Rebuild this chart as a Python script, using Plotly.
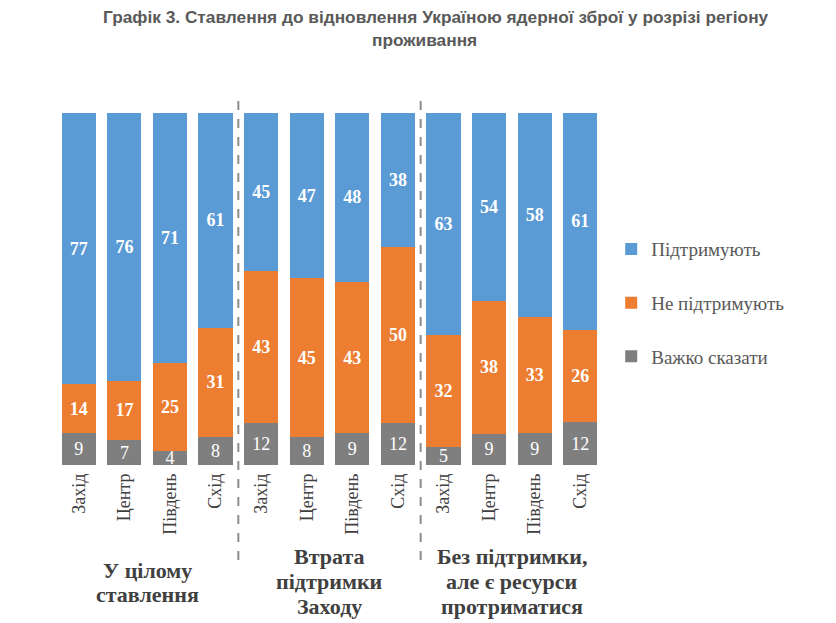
import plotly.graph_objects as go

categories = ["Захід", "Центр", "Південь", "Схід"] * 3
group_lines = [["У цілому", "ставлення"],
               ["Втрата", "підтримки", "Заходу"],
               ["Без підтримки,", "але є ресурси", "протриматися"]]
hard_to_say = [9, 7, 4, 8, 12, 8, 9, 12, 5, 9, 9, 12]
not_support = [14, 17, 25, 31, 43, 45, 43, 50, 32, 38, 33, 26]
support = [77, 76, 71, 61, 45, 47, 48, 38, 63, 54, 58, 61]
series_names = ["Підтримують", "Не підтримують", "Важко сказати"]
title_lines = ["Графік 3. Ставлення до відновлення Україною ядерної зброї у розрізі регіону",
               "проживання"]

x = list(range(len(categories)))
serif = "Liberation Serif, Times New Roman, serif"
sans = "Liberation Sans, Arial, sans-serif"

fig = go.Figure()
specs = [(hard_to_say, series_names[2], "#7F7F7F", "normal", 3),
         (not_support, series_names[1], "#ED7D31", "bold", 2),
         (support, series_names[0], "#5B9BD5", "bold", 1)]
for vals, name, col, wt, rank in specs:
    fig.add_trace(go.Bar(
        x=x, y=vals, name=name, legendgroup=name, legendrank=rank, marker_color=col,
        marker_line_width=0,
        text=vals, textposition="inside", insidetextanchor="middle",
        constraintext="none", textangle=0, cliponaxis=False,
        textfont=dict(family=serif, size=18, color="white", weight=wt), width=0.75,
    ))

for xd in [3.5, 7.5]:
    fig.add_shape(type="line", xref="x", yref="paper", x0=xd, x1=xd, y0=-0.27, y1=1.045,
                  line=dict(color="#8C8C8C", width=2, dash="dash"))

line_ys = {2: [-0.301, -0.369], 3: [-0.261, -0.332, -0.403]}
for i, lines in enumerate(group_lines):
    ys = line_ys[len(lines)]
    for ln, yy in zip(lines, ys):
        fig.add_annotation(x=i * 4 + 1.5, xref="x", y=yy, yref="paper",
                           text=ln, showarrow=False, yanchor="middle", xanchor="center",
                           font=dict(family=serif, size=22, color="#404040", weight="bold"))

for ln, xx, yy in zip(title_lines, [0.695, 0.673], [1.273, 1.207]):
    fig.add_annotation(x=xx, xref="paper", y=yy, yref="paper", yanchor="middle",
                       xanchor="center", text=ln, showarrow=False,
                       font=dict(family=sans, size=17.3, color="#595959", weight="bold"))

fig.update_layout(
    barmode="stack", barnorm="percent", bargap=0.25,
    width=828, height=615,
    margin=dict(l=48, r=233, t=105, b=158),
    font=dict(family=serif, color="#595959"),
    plot_bgcolor="white", paper_bgcolor="white",
    showlegend=True,
    legend=dict(x=1.015, y=0.46, xanchor="left", yanchor="middle", traceorder="grouped",
                font=dict(family=serif, size=19, color="#595959"),
                tracegroupgap=26, itemwidth=30),
    xaxis=dict(tickvals=x, ticktext=categories, tickangle=-90, range=[-0.5, 11.5],
               showgrid=False, zeroline=False, showline=False, ticks="",
               ticklabelstandoff=4,
               tickfont=dict(family=serif, size=18, color="#404040")),
    yaxis=dict(range=[0, 100], visible=False),
)

fig.write_html("out.html")
